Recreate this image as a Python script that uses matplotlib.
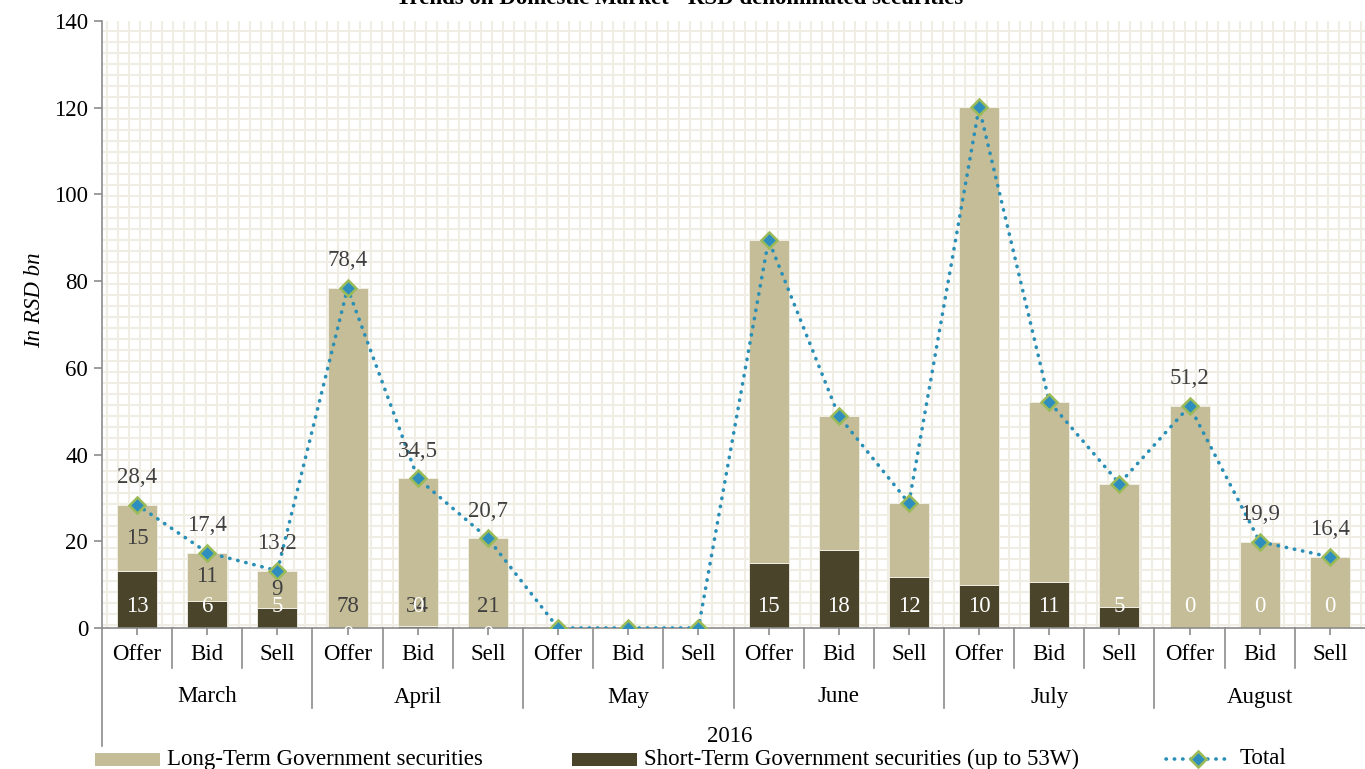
import matplotlib
matplotlib.use('Agg')
import matplotlib.pyplot as plt
from matplotlib.lines import Line2D
from matplotlib.patches import Rectangle
import numpy as np

# ---------------- data ----------------
months = ['March', 'April', 'May', 'June', 'July', 'August']
sub_labels = ['Offer', 'Bid', 'Sell']
year_label = '2016'
long_term = [15.3, 11.2, 8.6, 78.4, 34.1, 20.7, 0, 0, 0,
             74.5, 31.0, 17.1, 110.2, 41.6, 28.5, 51.2, 19.9, 16.4]
short_term = [13.1, 6.2, 4.6, 0, 0.4, 0, 0, 0, 0,
              15.0, 17.9, 11.7, 9.9, 10.6, 4.8, 0, 0, 0]
total = [28.4, 17.4, 13.2, 78.4, 34.5, 20.7, 0, 0, 0,
         89.5, 48.9, 28.8, 120.1, 52.2, 33.3, 51.2, 19.9, 16.4]
y_ticks = [0, 20, 40, 60, 80, 100, 120, 140]
title = 'Trends on Domestic Market - RSD denominated securities'
series_names = ['Long-Term Government securities',
                'Short-Term Government securities (up to 53W)', 'Total']

# ---------------- style ----------------
FONT = 'Liberation Serif'
plt.rcParams['font.family'] = [FONT, 'DejaVu Serif']
FS = 16.5
C_LONG = '#C4BD97'
C_SHORT = '#4A452A'
C_LINE = '#2A8FB6'
C_MFACE = '#2E8FBF'
C_MEDGE = '#9BBB59'
C_AX = '#8C8C8C'
C_TXT = '#404040'
C_GRID = '#F0EDE4'

W, H = 1365, 769
fig = plt.figure(figsize=(W / 100, H / 100), dpi=100)
ax_l, ax_r, ax_t, ax_b = 102, 1365, 21, 628
ax = fig.add_axes([ax_l / W, 1 - ax_b / H, (ax_r - ax_l) / W, (ax_b - ax_t) / H])

n = len(total)
x = np.arange(n)
ax.set_xlim(-0.5, n - 0.5)
ax.set_ylim(0, 140)

# background fine grid pattern
step = 11
ax_w, ax_h = ax_r - ax_l, ax_b - ax_t
for px in np.arange(5, ax_w, step):
    ax.plot([px / ax_w, px / ax_w], [0, 1], transform=ax.transAxes, color=C_GRID, lw=1.5, zorder=0)
for py in np.arange(3, ax_h, step):
    ax.plot([0, 1], [py / ax_h, py / ax_h], transform=ax.transAxes, color=C_GRID, lw=1.5, zorder=0)

bw = 0.57
ax.bar(x, short_term, width=bw, color=C_SHORT, zorder=2, edgecolor='#F4F2EA', linewidth=0.6)
ax.bar(x, long_term, bottom=short_term, width=bw, color=C_LONG, zorder=2,
       edgecolor='#F4F2EA', linewidth=0.6)
ax.plot(x, total, linestyle=(0, (0.1, 2.2)), dash_capstyle='round', color=C_LINE, lw=2.6,
        marker='D', markersize=8, markerfacecolor=C_MFACE, markeredgecolor=C_MEDGE,
        markeredgewidth=1.8, zorder=4)

# data labels
base_y = 5.0
for i in range(n):
    if 6 <= i <= 8:
        continue
    # long-term labels
    if i <= 2:
        ax.text(x[i], short_term[i] + long_term[i] / 2, f'{long_term[i]:.0f}', ha='center',
                va='center', fontsize=FS, color=C_TXT, zorder=5)
    elif i <= 5:
        ax.text(x[i], base_y, f'{long_term[i]:.0f}', ha='center', va='center',
                fontsize=FS, color=C_TXT, zorder=5)
    # short-term labels
    yy = -1.8 if i in (3, 5) else base_y
    ax.text(x[i], yy, f'{short_term[i]:.0f}', ha='center', va='center', fontsize=FS,
            color='white', zorder=6)
for i in list(range(0, 6)) + list(range(15, 18)):
    ax.annotate(f'{total[i]:.1f}'.replace('.', ','), (x[i], total[i]), xytext=(0, 19.5),
                textcoords='offset points', ha='center', va='center', fontsize=FS,
                color=C_TXT, zorder=6)

# axes styling
for s in ['top', 'right']:
    ax.spines[s].set_visible(False)
for s in ['left', 'bottom']:
    ax.spines[s].set_color(C_AX)
    ax.spines[s].set_linewidth(1.2)
ax.set_yticks(y_ticks)
ax.set_yticklabels([str(v) for v in y_ticks], fontsize=FS, color='black')
ax.tick_params(axis='y', length=6, color=C_AX, width=1.2, pad=4)
ax.set_xticks(x)
ax.set_xticklabels([])
ax.tick_params(axis='x', length=5, color=C_AX, width=1.2)

# category axis labels
tr = ax.get_xaxis_transform()
for i in range(n):
    ax.text(x[i], -27 / ax_h, sub_labels[i % 3], transform=tr, ha='center', va='center',
            fontsize=FS, color='black')
for m, name in enumerate(months):
    ax.text(3 * m + 1, -69 / ax_h, name, transform=tr, ha='center', va='center',
            fontsize=FS, color='black')
for k in range(1, n):
    depth = 80 if k % 3 == 0 else 40
    ax.add_line(Line2D([k - 0.5, k - 0.5], [0, -depth / ax_h], transform=tr, color=C_AX,
                       lw=1.2, clip_on=False))
ax.add_line(Line2D([-0.5, -0.5], [0, -118 / ax_h], transform=tr, color=C_AX, lw=1.2,
                   clip_on=False))

fig.text(730 / W, 1 - 736 / H, year_label, ha='center', va='center', fontsize=FS)
fig.text(35 / W, 1 - 300 / H, 'In RSD bn', rotation=90, ha='center', va='center',
         fontsize=FS, style='italic')
fig.text(680 / W, 1 - 4 / H, title, ha='center', va='baseline', fontsize=FS,
         fontweight='bold')

# legend (manual)
ly = 1 - 759 / H
fig.patches.append(Rectangle((95 / W, 1 - 766 / H), 65 / W, 13 / H, transform=fig.transFigure,
                             facecolor=C_LONG, edgecolor='none'))
fig.text(167 / W, ly, series_names[0], ha='left', va='center', fontsize=FS)
fig.patches.append(Rectangle((572 / W, 1 - 766 / H), 65 / W, 13 / H, transform=fig.transFigure,
                             facecolor=C_SHORT, edgecolor='none'))
fig.text(644 / W, ly, series_names[1], ha='left', va='center', fontsize=FS)
fig.lines.append(Line2D([1166 / W, 1231 / W], [ly, ly], transform=fig.transFigure,
                        linestyle=(0, (0.1, 2.2)), dash_capstyle='round', color=C_LINE, lw=2.6))
fig.lines.append(Line2D([1198 / W], [ly], transform=fig.transFigure, marker='D', markersize=8,
                        markerfacecolor=C_MFACE, markeredgecolor=C_MEDGE, markeredgewidth=1.8))
fig.text(1240 / W, ly, series_names[2], ha='left', va='center', fontsize=FS)

fig.savefig('out.png', dpi=100)
